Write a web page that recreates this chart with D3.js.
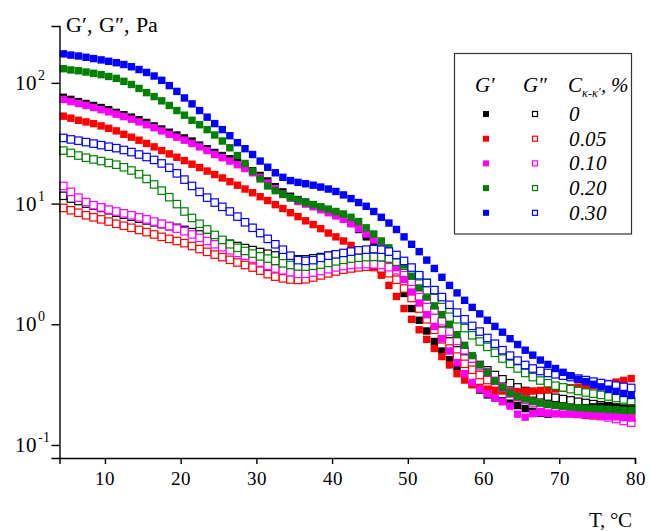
<!DOCTYPE html>
<html lang="en">
<head>
<meta charset="utf-8">
<title>G', G'' vs T</title>
<script src="https://d3js.org/d3.v7.min.js"></script>
<style>
  @font-face { font-family: "RefSerif"; font-style: normal;
    src: local("Liberation Serif"), local("LiberationSerif"), local("LiberationSerif-Regular"), local("DejaVu Serif"), local("DejaVuSerif"); }
  @font-face { font-family: "RefSerif"; font-style: italic;
    src: local("Liberation Serif Italic"), local("LiberationSerif-Italic"), local("DejaVu Serif Italic"), local("DejaVuSerif-Italic"); }
  body { margin: 0; background: #fff; }
</style>
</head>
<body>
<div id="chart"></div>
<script>
// temperature, degC
var temps = [4.5,5.5,6.5,7.5,8.5,9.5,10.5,11.5,12.5,13.5,
  14.5,15.5,16.5,17.5,18.5,19.5,20.5,21.5,22.5,23.5,
  24.5,25.5,26.5,27.5,28.5,29.5,30.5,31.5,32.5,33.5,
  34.5,35.5,36.5,37.5,38.5,39.5,40.5,41.5,42.5,43.5,
  44.5,45.5,46.5,47.5,48.5,49.5,50.5,51.5,52.5,53.5,
  54.5,55.5,56.5,57.5,58.5,59.5,60.5,61.5,62.5,63.5,
  64.5,65.5,66.5,67.5,68.5,69.5,70.5,71.5,72.5,73.5,
  74.5,75.5,76.5,77.5,78.5,79.5];

// G' (storage modulus), Pa
var gp0 = [76,73,70,67.5,65,62.5,60,57,54.5,52,
  49.5,47,44,41.5,39,37,35,33,30.5,28.5,
  26.5,25,23.5,22,20.3,18.7,17.1,15.4,13.8,12.5,
  11.5,10.8,10.3,9.8,9.3,8.7,8.2,7.6,6.9,6.1,
  5.3,4.6,3.8,3.0,2.35,1.8,1.35,1.08,0.88,0.72,
  0.6,0.51,0.44,0.38,0.32,0.285,0.26,0.245,0.232,0.222,
  0.212,0.2,0.19,0.183,0.18,0.185,0.19,0.195,0.2,0.204,
  0.207,0.209,0.21,0.205,0.2,0.197];
var gp005 = [53,51,49,47.5,46,44,42,40,37.5,35.5,
  33.5,31.5,29.5,27.5,25.8,24.2,22.7,21.2,19.9,18.6,
  17.4,16.3,15.2,14.2,13.2,12.3,11.4,10.6,9.8,9.1,
  8.4,7.8,7.2,6.7,6.2,5.7,5.3,4.9,4.5,4.0,
  3.5,3.0,2.55,2.1,1.7,1.35,1.1,0.9,0.75,0.63,
  0.54,0.46,0.39,0.345,0.315,0.3,0.29,0.284,0.28,0.278,
  0.277,0.278,0.28,0.283,0.287,0.291,0.295,0.298,0.302,0.306,
  0.31,0.316,0.323,0.332,0.343,0.355];
var gp010 = [73,70,67.5,65,62.5,60,57.5,55,52.5,50,
  47.5,45,42.5,40,37.5,35.5,33.5,31.5,29.5,27.5,
  25.5,24,22.5,21,19.5,18,16.5,14.8,13.3,12,
  11.1,10.4,9.9,9.4,8.9,8.4,7.9,7.4,6.8,6.2,
  5.6,5.0,4.4,3.7,2.95,2.35,1.85,1.5,1.2,0.96,
  0.76,0.6,0.48,0.39,0.33,0.29,0.265,0.245,0.228,0.21,
  0.18,0.17,0.182,0.185,0.183,0.181,0.18,0.18,0.179,0.178,
  0.177,0.175,0.173,0.171,0.169,0.167];
var gp020 = [131,128,126,123,120,117,113,109,103,97,
  90,83,77,71,65,59,54,49,45,41,
  37,33,29,25,21.5,18.5,16,14,12.8,11.9,
  11.2,10.7,10.2,9.8,9.4,9.0,8.6,8.2,7.7,7.1,
  6.3,5.6,4.9,4.3,3.7,3.1,2.5,2.0,1.68,1.42,
  1.2,1.0,0.82,0.67,0.55,0.46,0.4,0.34,0.3,0.27,
  0.252,0.24,0.23,0.222,0.216,0.212,0.209,0.206,0.204,0.202,
  0.2,0.199,0.197,0.196,0.194,0.193];
var gp030 = [174,170,167,163,159,155,151,147,142,136,
  129,122,114,105,95,85,75,67,59,52,
  46,41,36.5,32,28.5,25.5,22.5,20,18,16.5,
  15.5,15,14.6,14.2,13.7,13.2,12.6,11.8,11,10.2,
  9.5,8.6,7.7,6.9,6.1,5.3,4.6,4.0,3.4,2.9,
  2.45,2.1,1.82,1.58,1.38,1.22,1.08,0.96,0.86,0.76,
  0.68,0.61,0.555,0.505,0.465,0.43,0.4,0.375,0.35,0.335,
  0.318,0.303,0.29,0.278,0.267,0.257];

// G'' (loss modulus), Pa
var gpp0 = [11.6,11,10.5,10,9.6,9.2,8.8,8.4,8.1,7.8,
  7.5,7.25,7.0,6.75,6.5,6.3,6.05,5.8,5.55,5.3,
  5.05,4.85,4.65,4.45,4.28,4.12,3.97,3.84,3.72,3.6,
  3.5,3.45,3.45,3.52,3.6,3.7,3.78,3.85,3.9,3.95,
  3.98,3.95,3.8,3.5,3.15,2.75,2.35,1.95,1.6,1.3,
  1.02,0.83,0.7,0.6,0.52,0.46,0.415,0.38,0.35,0.325,
  0.3,0.28,0.267,0.258,0.252,0.246,0.24,0.234,0.228,0.223,
  0.218,0.213,0.209,0.204,0.2,0.197];
var gpp005 = [9.2,8.8,8.4,8.0,7.7,7.4,7.1,6.8,6.55,6.3,
  6.05,5.8,5.55,5.3,5.1,4.9,4.7,4.45,4.2,3.98,
  3.78,3.6,3.42,3.25,3.1,2.95,2.78,2.6,2.48,2.4,
  2.35,2.33,2.36,2.44,2.54,2.64,2.74,2.83,2.9,2.96,
  3.0,2.98,2.88,2.65,2.34,1.98,1.65,1.35,1.1,0.9,
  0.75,0.63,0.54,0.47,0.42,0.38,0.345,0.315,0.29,0.268,
  0.25,0.237,0.226,0.216,0.206,0.197,0.19,0.185,0.181,0.178,
  0.176,0.174,0.172,0.17,0.169,0.168];
var gpp010 = [14,12.5,11.2,10.3,9.7,9.3,8.9,8.6,8.3,8.0,
  7.7,7.4,7.1,6.8,6.5,6.2,5.9,5.55,5.2,4.9,
  4.6,4.35,4.1,3.9,3.7,3.5,3.25,3.05,2.9,2.8,
  2.7,2.62,2.62,2.68,2.76,2.86,2.96,3.04,3.1,3.14,
  3.15,3.14,3.1,2.97,2.8,2.55,2.25,1.93,1.6,1.3,
  1.06,0.87,0.73,0.61,0.52,0.45,0.4,0.34,0.3,0.27,
  0.25,0.236,0.225,0.216,0.209,0.203,0.197,0.192,0.187,0.183,
  0.179,0.174,0.169,0.164,0.158,0.153];
var gpp020 = [27.5,26.3,25,24,23.2,22.5,21.7,21,20,18.8,
  17.5,16,14.4,12.8,11.3,9.9,8.6,7.6,6.8,6.1,
  5.5,5.0,4.6,4.3,4.05,3.85,3.65,3.5,3.35,3.2,
  3.1,3.02,3.0,3.05,3.12,3.22,3.32,3.42,3.5,3.56,
  3.6,3.62,3.6,3.5,3.3,3.05,2.8,2.5,2.2,1.9,
  1.6,1.33,1.1,0.93,0.81,0.72,0.65,0.58,0.52,0.47,
  0.43,0.395,0.365,0.342,0.325,0.31,0.3,0.29,0.28,0.272,
  0.266,0.26,0.252,0.245,0.238,0.232];
var gpp030 = [35,34,33.2,32.3,31.4,30.5,29.6,28.8,27.8,26.7,
  25.5,24.3,23,21.5,19.8,17.8,15.8,14,12.5,11.2,
  10.2,9.4,8.6,7.8,7.0,6.3,5.7,5.1,4.6,4.15,
  3.7,3.4,3.35,3.4,3.55,3.7,3.8,3.9,4.0,4.1,
  4.15,4.2,4.15,4.0,3.75,3.35,2.95,2.55,2.2,1.92,
  1.68,1.45,1.25,1.1,0.97,0.87,0.77,0.69,0.61,0.55,
  0.5,0.46,0.43,0.41,0.395,0.385,0.375,0.365,0.355,0.345,
  0.335,0.326,0.317,0.31,0.303,0.297];

var concLabels = ["0", "0.05", "0.10", "0.20", "0.30"];
var colors = ["#000000", "#ff0000", "#ff00ff", "#008000", "#0000ff"];
var storage = [gp0, gp005, gp010, gp020, gp030];
var loss = [gpp0, gpp005, gpp010, gpp020, gpp030];

var xMajor = [10, 20, 30, 40, 50, 60, 70, 80];
var xMinor = [5, 15, 25, 35, 45, 55, 65, 75];
var yMajor = [0.1, 1, 10, 100];
var yExp = ["-1", "0", "1", "2"];

var FONT = "RefSerif, 'Liberation Serif', serif";
var W = 649, H = 531;
var svg = d3.select("#chart").append("svg")
  .attr("width", W).attr("height", H)
  .attr("font-family", FONT);

var x = d3.scaleLinear().domain([4, 80]).range([59.5, 635]);
var y = d3.scaleLog().domain([0.078, 296]).range([458, 26]);

// minor ticks on the log axis: 2..9 of each decade inside the domain
var yMinor = [];
[0.01, 0.1, 1, 10, 100].forEach(function(dec) {
  for (var k = 2; k <= 9; k++) {
    var v = dec * k;
    if (v >= y.domain()[0] && v <= y.domain()[1]) yMinor.push(v);
  }
});

// markers
var S = 7.4;
function drawSeries(vals, col, filled) {
  var pts = temps.map(function(t, i) { return [t, vals[i]]; });
  svg.append("g").selectAll("rect")
    .data(pts)
    .enter()
    .append("rect")
    .attr("x", function(d) { return x(d[0]) - S / 2; })
    .attr("y", function(d) { return y(d[1]) - S / 2; })
    .attr("width", S).attr("height", S)
    .style("fill", filled ? col : "#fff")
    .style("stroke", filled ? "none" : col)
    .style("stroke-width", filled ? 0 : 1.2);
}
for (var s = 0; s < 5; s++) {
  drawSeries(loss[s], colors[s], false);
  drawSeries(storage[s], colors[s], true);
}

// axes
var gx = svg.append("g").attr("transform", "translate(0,458)");
gx.call(d3.axisBottom(x).tickValues(xMinor).tickSize(4).tickFormat(""));
gx.call(d3.axisBottom(x).tickValues(xMajor).tickSize(6).tickFormat(d3.format("d")));
gx.attr("font-family", FONT).attr("font-size", 19);
gx.selectAll("text").attr("dy", "0.95em");
gx.selectAll("path, line").style("stroke", "#000").style("stroke-width", 1.4);

var gy = svg.append("g").attr("transform", "translate(59.5,0)");
gy.call(d3.axisLeft(y).tickValues(yMinor).tickSize(4).tickFormat(""));
gy.call(d3.axisLeft(y).tickValues(yMajor).tickSize(8).tickFormat(""));
gy.selectAll("path, line").style("stroke", "#000").style("stroke-width", 1.4);

function txt(g, xx, yy, size, str) {
  return g.append("text").attr("x", xx).attr("y", yy)
    .attr("font-family", FONT).attr("font-size", size)
    .attr("fill", "#000").text(str);
}

yMajor.forEach(function(v, i) {
  txt(svg, 37, y(v) + 7, 21, "10").attr("text-anchor", "end");
  txt(svg, 38, y(v) - 3, 14, yExp[i]);
});

// axis titles
txt(svg, 66, 32, 22, "G\u2032, G\u2033, Pa");
txt(svg, 632, 527, 21, "T, \u00b0C").attr("text-anchor", "end");

// legend
var lg = svg.append("g");
lg.append("rect").attr("x", 454.5).attr("y", 53.5)
  .attr("width", 177).attr("height", 180.5)
  .style("fill", "#fff").style("stroke", "#333").style("stroke-width", 1.2);
txt(lg, 485, 92, 21, "G\u2032").attr("text-anchor", "middle").attr("font-style", "italic");
txt(lg, 535, 92, 21, "G\u2033").attr("text-anchor", "middle").attr("font-style", "italic");
var hdr = txt(lg, 568, 92, 21, "").attr("font-style", "italic");
hdr.append("tspan").text("C");
hdr.append("tspan").attr("dy", 5).attr("font-size", 12).text("\u03ba-\u03ba'");
hdr.append("tspan").attr("dy", -5).text(", %");

concLabels.forEach(function(lab, i) {
  var cy = 114 + i * 24.7;
  lg.append("rect").attr("x", 483).attr("y", cy - 3).attr("width", 6).attr("height", 6)
    .style("fill", colors[i]);
  lg.append("rect").attr("x", 532.5).attr("y", cy - 2.5).attr("width", 5).attr("height", 5)
    .style("fill", "#fff").style("stroke", colors[i]).style("stroke-width", 1.2);
  txt(lg, 569, cy + 7, 21, lab).attr("font-style", "italic");
});
</script>
</body>
</html>
